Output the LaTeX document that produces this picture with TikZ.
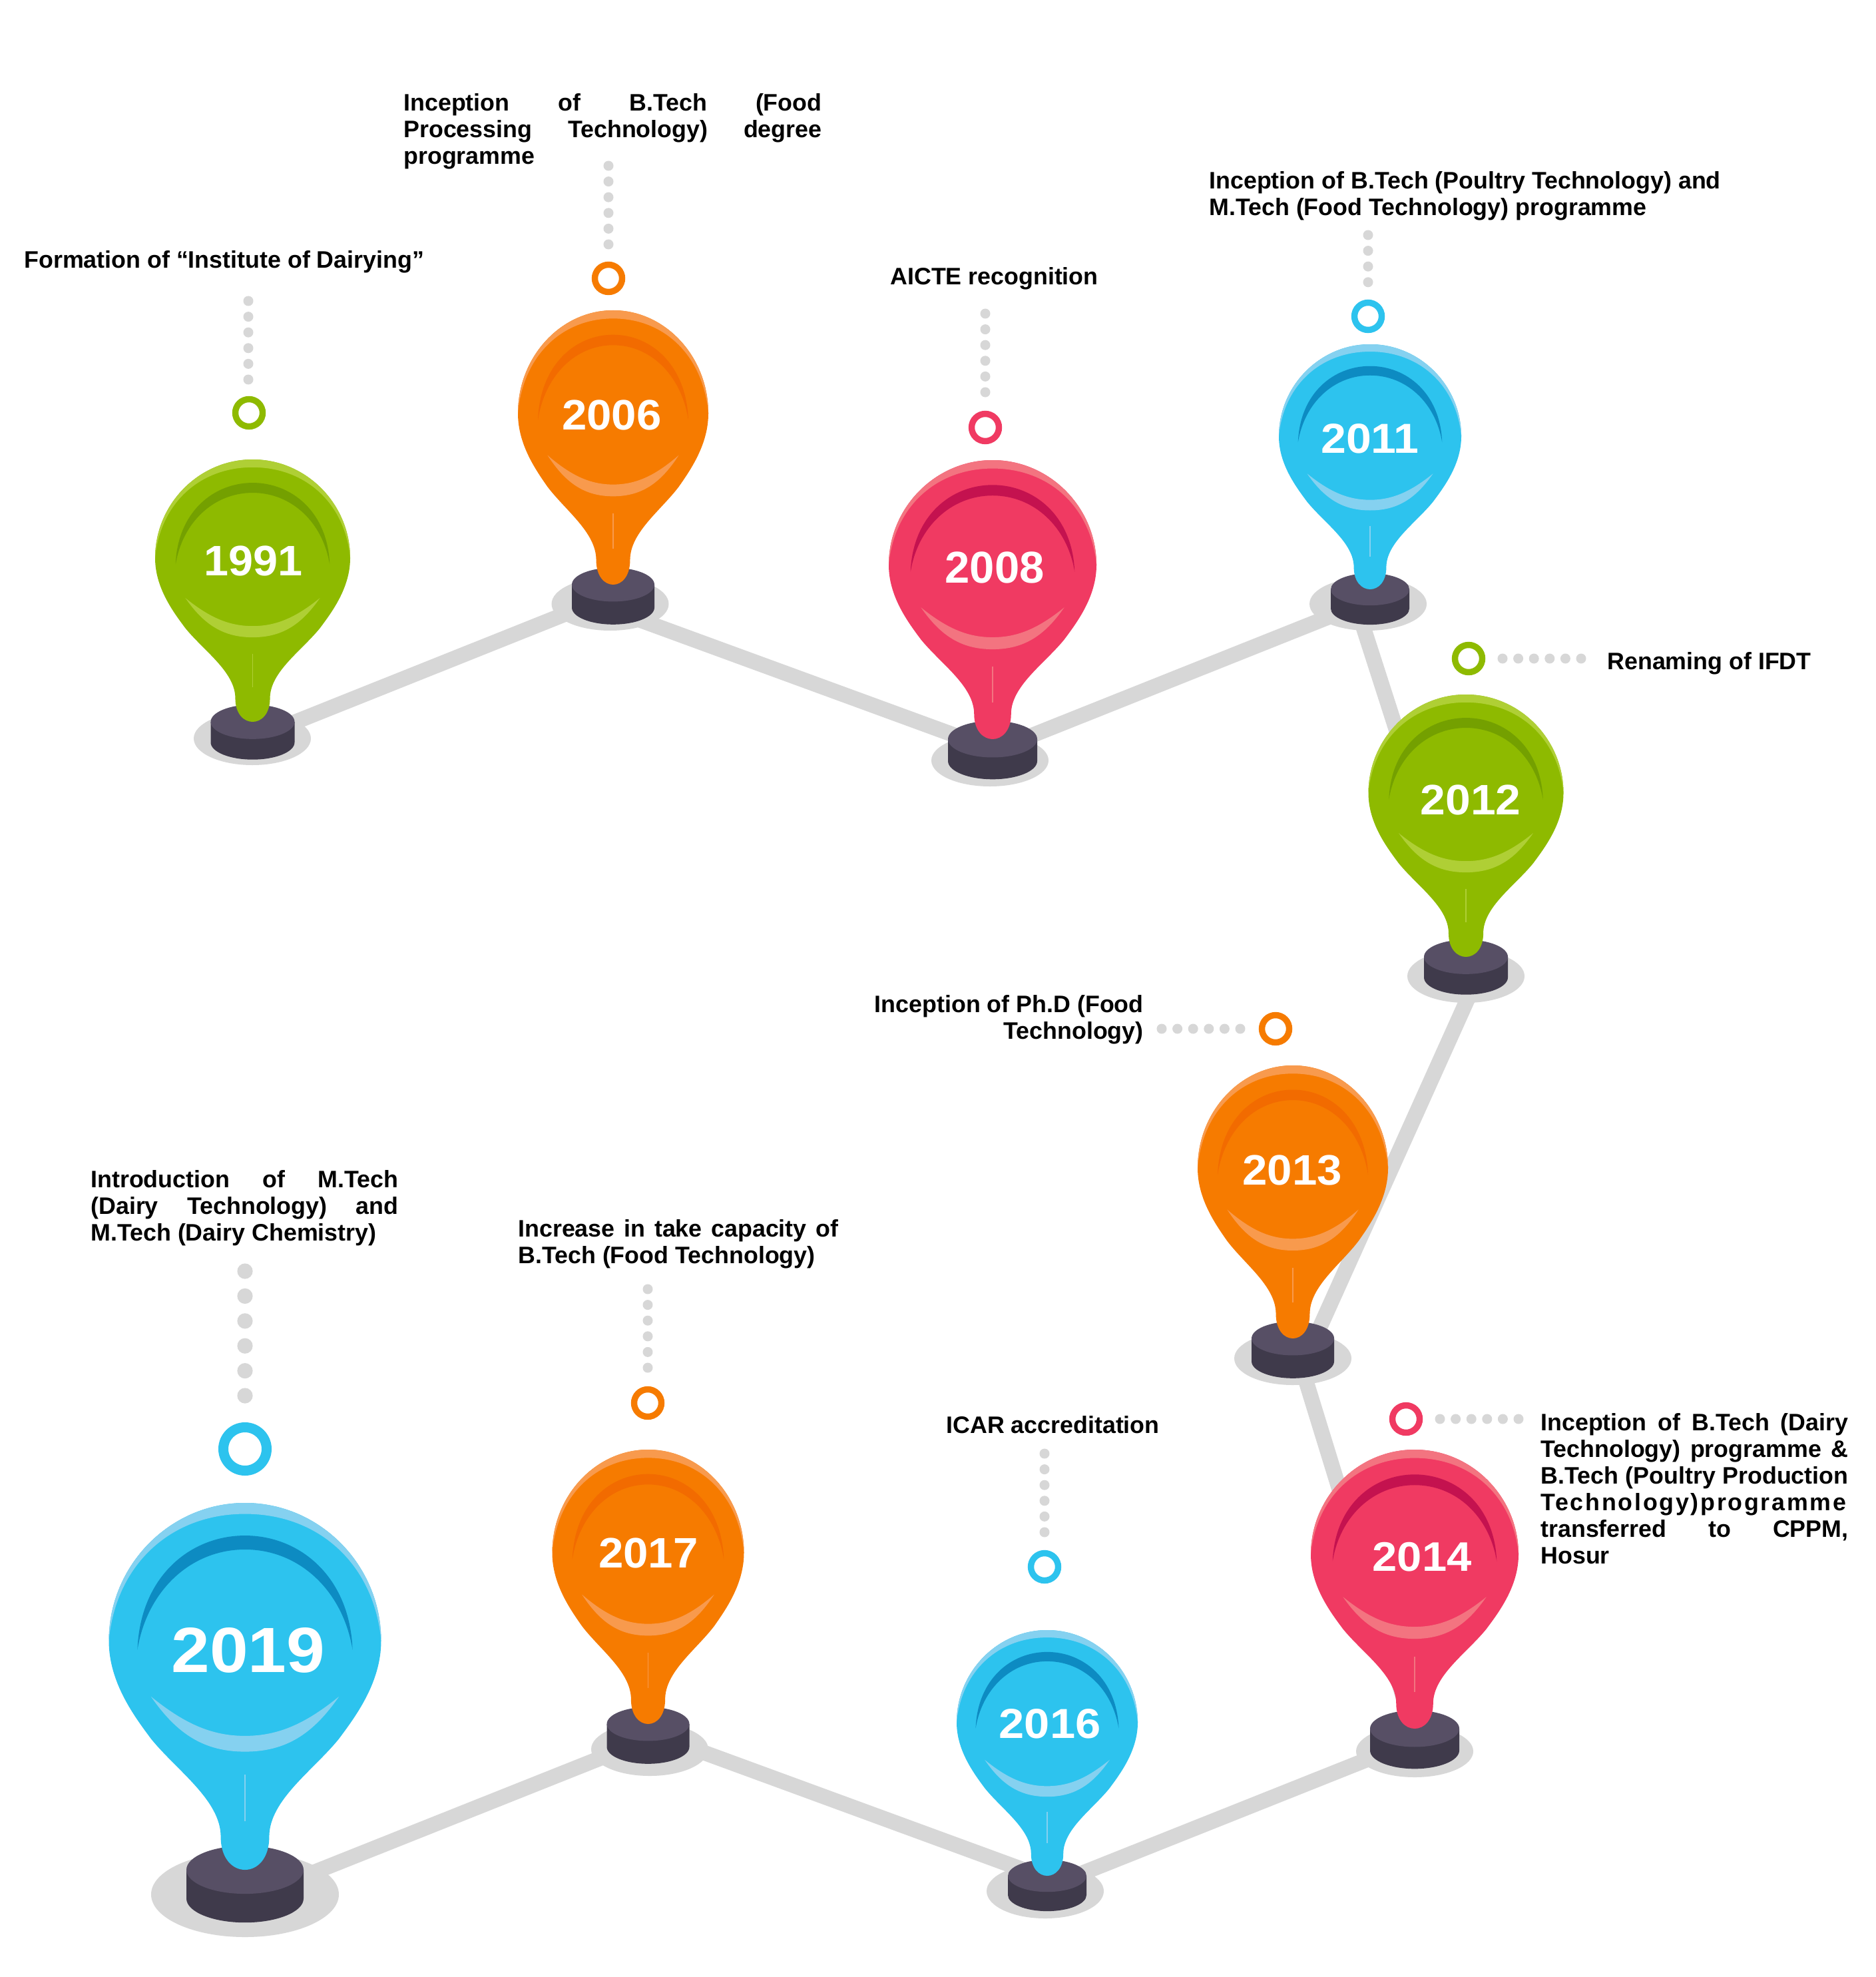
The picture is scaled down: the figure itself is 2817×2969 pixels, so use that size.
\documentclass[tikz,border=0pt]{standalone}
\usepackage{fontspec}
\usepackage{graphicx}
\setmainfont{Liberation Sans}
\definecolor{roadgray}{HTML}{D7D7D7}
\definecolor{basetop}{HTML}{574F65}
\definecolor{baseside}{HTML}{3F3A4B}
\definecolor{gmain}{HTML}{8EBA00}\definecolor{glight}{HTML}{AFCF35}\definecolor{gdark}{HTML}{74A000}
\definecolor{omain}{HTML}{F67B00}\definecolor{olight}{HTML}{F89A4D}\definecolor{odark}{HTML}{F26B00}
\definecolor{pmain}{HTML}{F03A62}\definecolor{plight}{HTML}{F37480}\definecolor{pdark}{HTML}{C4124F}
\definecolor{bmain}{HTML}{2DC3EE}\definecolor{blight}{HTML}{85D1F0}\definecolor{bdark}{HTML}{0D8BC2}
\tikzset{
  road/.style={draw=roadgray,line width=11.5pt},
  dotline/.style={draw=roadgray,line width=7.5pt,line cap=round,dash pattern=on 0pt off 11.8pt},
  bigdotline/.style={draw=roadgray,line width=11.6pt,line cap=round,dash pattern=on 0pt off 18.7pt},
  ring/.style={circle,draw=#1,fill=white,inner sep=0pt},
  yearlabel/.style={text=white,inner sep=0pt,font=\bfseries},
  note/.style={inner sep=0pt,anchor=base west,font=\bfseries\fontsize{17.9}{20}\selectfont,text=black},
}
\newcommand{\jl}[2]{\hbox to #1pt{#2}}
\newcommand{\pl}[1]{\hbox{#1}}
\newcommand{\lines}[1]{\vtop{\baselineskip=20pt\lineskiplimit=-20pt #1}}
% floor shadow: id, cx, cy, rx, ry
\newcommand{\pinfloor}[5]{%
  \coordinate (f#1) at (#2,#3);
  \fill[roadgray] (f#1) ellipse [x radius=#4,y radius=#5];}
% pin: cx, top, halfwidth, tip, base rx, colour prefix, extra base depth
\newcommand{\pinbody}[7]{%
  \pgfmathsetmacro{\pinH}{#4-#2}%
  \pgfmathsetmacro{\pinXu}{#3*0.5}%
  \pgfmathsetmacro{\pinYu}{\pinH*0.5}%
  \pgfmathsetmacro{\baseRy}{#5*0.41}%
  \pgfmathsetmacro{\baseD}{#5*0.49+#7}%
  % base
  \fill[baseside] (#1-#5,#4) -- ++(0,\baseD) arc [start angle=180,end angle=360,x radius=#5,y radius=-\baseRy] -- ++(0,-\baseD) -- cycle;
  \fill[basetop] (#1,#4) ellipse [x radius=#5,y radius=\baseRy];
  \begin{scope}[shift={(#1,#2)},x=\pinXu pt,y=-\pinYu pt]
    \fill[#6main] (0,0) .. controls (.55,0) and (1,.17) .. (1,.376)
      .. controls (1,.49) and (.81,.583) .. (.69,.643)
      .. controls (.5,.73) and (.178,.81) .. (.178,.91)
      .. controls (.178,.97) and (.09,1) .. (0,1)
      .. controls (-.09,1) and (-.178,.97) .. (-.178,.91)
      .. controls (-.178,.81) and (-.5,.73) .. (-.69,.643)
      .. controls (-.81,.583) and (-1,.49) .. (-1,.376)
      .. controls (-1,.17) and (-.55,0) .. (0,0) -- cycle;
    \fill[#6light] (1,.376) .. controls (1,.17) and (.55,0) .. (0,0)
      .. controls (-.55,0) and (-1,.17) .. (-1,.376)
      .. controls (-.95,.17) and (-.55,.03) .. (0,.03)
      .. controls (.55,.03) and (.95,.17) .. (1,.376) -- cycle;
    \fill[#6dark] (-.79,.40) .. controls (-.77,.2) and (-.4,.089) .. (0,.089)
      .. controls (.4,.089) and (.77,.2) .. (.79,.40)
      .. controls (.72,.24) and (.4,.127) .. (0,.127)
      .. controls (-.4,.127) and (-.72,.24) .. (-.79,.40) -- cycle;
    \fill[#6light] (-.69,.528) .. controls (-.45,.60) and (-.25,.635) .. (0,.635)
      .. controls (.25,.635) and (.45,.60) .. (.69,.528)
      .. controls (.5,.63) and (.3,.678) .. (0,.678)
      .. controls (-.3,.678) and (-.5,.63) .. (-.69,.528) -- cycle;
    \draw[#6light,line width=.7pt] (0,.741) -- (0,.868);
  \end{scope}}
\newcommand{\yearat}[5]{\node[yearlabel] (y#1) at (#2,#3) {\fontsize{#4}{#4}\selectfont\scalebox{#5}[1]{#1}};}
\begin{document}
\begin{tikzpicture}[x=0.5pt,y=-0.5pt]
\useasboundingbox (0,0) rectangle (2817,2969);
\fill[white] (0,0) rectangle (2817,2969);
% floors
\pinfloor{1991}{379}{1109}{88}{40}
\pinfloor{2006}{916.5}{907}{88}{40}
\pinfloor{2008}{1487}{1142}{88}{39}
\pinfloor{2011}{2055}{907}{88}{40}
\pinfloor{2012}{2202}{1466}{88}{40}
\pinfloor{2013}{1942}{2040}{88}{40}
\pinfloor{2014}{2125}{2630}{88}{39}
\pinfloor{2016}{1570}{2840}{88}{41}
\pinfloor{2017}{976}{2627}{88}{40}
\pinfloor{2019}{368}{2845}{141}{64}
% road ends
\coordinate (ra1) at (379,1110);  \coordinate (rb1) at (917,895);
\coordinate (ra2) at (920,916);   \coordinate (rb2) at (1491,1125);
\coordinate (ra3) at (1491,1128); \coordinate (rb3) at (2040,909);
\coordinate (ra4) at (2036,905);  \coordinate (rb4) at (2207,1437);
\coordinate (ra5) at (2220,1466); \coordinate (rb5) at (1962,2039);
\coordinate (ra6) at (1951,2039); \coordinate (rb6) at (2131,2624);
\coordinate (ra7) at (2125,2614); \coordinate (rb7) at (1573,2834);
\coordinate (ra8) at (1573,2821); \coordinate (rb8) at (973,2601);
\coordinate (ra9) at (973,2612);  \coordinate (rb9) at (368,2853);
\foreach \rr in {1,...,9} {\draw[road] (ra\rr) -- (rb\rr);}
% pins
\pinbody{379.5}{690}{146.5}{1084}{63}{g}{0}
\pinbody{921}{466}{143}{878}{62}{o}{4}
\pinbody{1491}{691}{156}{1110}{67}{p}{0}
\pinbody{2058}{517}{137}{885}{59}{b}{0}
\pinbody{2202}{1043}{146.5}{1437}{63}{g}{0}
\pinbody{1942}{1600}{143}{2010}{62}{o}{4}
\pinbody{2125}{2177}{156}{2596}{67}{p}{0}
\pinbody{1573}{2448}{136}{2817}{59}{b}{0}
\pinbody{973.5}{2177}{144}{2589}{62}{o}{4}
\pinbody{368}{2257}{204.5}{2808}{88}{b}{0}
% years
\yearat{1991}{380.5}{842}{32}{1.04}
\yearat{2006}{919}{623}{32}{1.05}
\yearat{2008}{1494}{852}{33.5}{1}
\yearat{2011}{2058}{659}{31.5}{1.08}
\yearat{2012}{2209}{1201}{32}{1.06}
\yearat{2013}{1941}{1757}{32}{1.05}
\yearat{2014}{2136}{2338}{31}{1.08}
\yearat{2016}{1577}{2589}{31.5}{1.09}
\yearat{2017}{974}{2332}{32}{1.05}
\yearat{2019}{373}{2478}{48}{1.08}
% rings
\node[ring=gmain,line width=4.7pt,minimum size=20.5pt] (r1991) at (374,620) {};
\node[ring=omain,line width=4.7pt,minimum size=20.5pt] (r2006) at (914,418) {};
\node[ring=pmain,line width=4.7pt,minimum size=20.5pt] (r2008) at (1480,642) {};
\node[ring=bmain,line width=4.7pt,minimum size=20.5pt] (r2011) at (2055,475) {};
\node[ring=gmain,line width=4.7pt,minimum size=20.5pt] (r2012) at (2206,989) {};
\node[ring=omain,line width=4.7pt,minimum size=20.5pt] (r2013) at (1916,1545) {};
\node[ring=pmain,line width=4.7pt,minimum size=20.5pt] (r2014) at (2112,2131) {};
\node[ring=bmain,line width=4.7pt,minimum size=20.5pt] (r2016) at (1569,2353) {};
\node[ring=omain,line width=4.7pt,minimum size=20.5pt] (r2017) at (973,2107) {};
\node[ring=bmain,line width=7.5pt,minimum size=32.5pt] (r2019) at (368,2176) {};
% dotted leaders
\coordinate (a1991) at (373,452); \coordinate (c1991) at (373,571);
\coordinate (a2006) at (914,249); \coordinate (c2006) at (914,368);
\coordinate (a2008) at (1480,471); \coordinate (c2008) at (1480,590);
\coordinate (a2011) at (2055,353); \coordinate (c2011) at (2055,425);
\coordinate (a2012) at (2257,989); \coordinate (c2012) at (2376,989);
\coordinate (a2013) at (1745,1545); \coordinate (c2013) at (1864,1545);
\coordinate (a2014) at (2163,2131); \coordinate (c2014) at (2282,2131);
\coordinate (a2016) at (1569,2183); \coordinate (c2016) at (1569,2302);
\coordinate (a2017) at (973,1936); \coordinate (c2017) at (973,2055);
\coordinate (a2019) at (368,1909); \coordinate (c2019) at (368,2097);
\foreach \yy in {1991,2006,2008,2011,2012,2013,2014,2016,2017} {\draw[dotline] (a\yy) -- (c\yy);}
\draw[bigdotline] (a2019) -- (c2019);
% notes
\node[note] (n1991) at (36,403) {Formation of “Institute of Dairying”};
\node[note] (n2006) at (606,166.5) {\lines{\jl{314}{Inception of B.Tech (Food}\jl{314}{Processing Technology) degree}\pl{programme}}};
\node[note] (n2008) at (1337,428) {AICTE recognition};
\node[note] (n2011) at (1816,283.5) {\lines{\pl{Inception of B.Tech (Poultry Technology) and}\pl{M.Tech (Food Technology) programme}}};
\node[note] (n2012) at (2414,1005) {Renaming of IFDT};
\node[note,anchor=base east] (n2013) at (1718,1520) {\lines{\hbox to 240pt{\hfil Inception of Ph.D (Food}\hbox to 240pt{\hfil Technology)}}};
\node[note] (n2014) at (2314,2148) {\lines{\jl{231}{Inception of B.Tech (Dairy}\jl{231}{Technology) programme \&}\jl{231}{B.Tech (Poultry Production}\jl{231}{\addfontfeature{LetterSpace=7.6}Technology)programme\hfil}\jl{231}{transferred to CPPM,}\pl{Hosur}}};
\node[note] (n2016) at (1421,2152) {ICAR accreditation};
\node[note] (n2017) at (778,1857) {\lines{\jl{240.5}{Increase in take capacity of}\pl{B.Tech (Food Technology)}}};
\node[note] (n2019) at (136,1783) {\lines{\jl{231}{Introduction of M.Tech}\jl{231}{(Dairy Technology) and}\pl{M.Tech (Dairy Chemistry)}}};
\end{tikzpicture}
\end{document}
